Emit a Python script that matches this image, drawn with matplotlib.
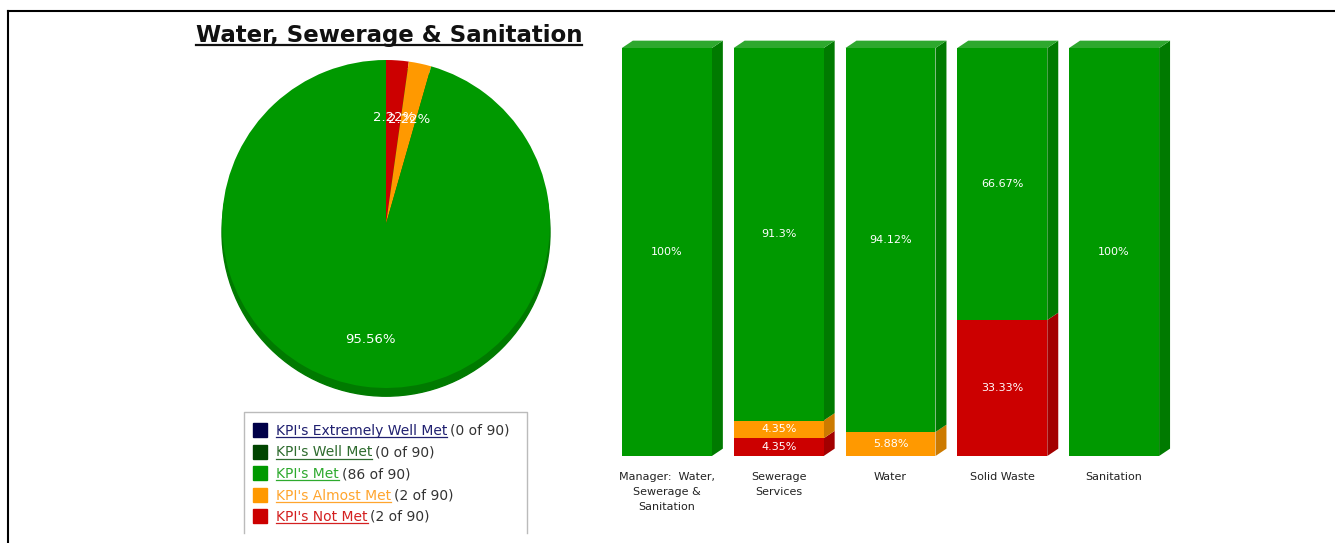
import numpy as np
import matplotlib
matplotlib.use('Agg')
from matplotlib import pyplot as plt
from matplotlib.patches import Polygon, Circle, Rectangle

# overall KPI status for the directorate
kpi_labels = ["KPI's Extremely Well Met", "KPI's Well Met", "KPI's Met",
              "KPI's Almost Met", "KPI's Not Met"]
kpi_counts = [0, 0, 86, 2, 2]
kpi_total = 90
kpi_colors = ['#000048', '#004400', '#009900', '#FF9900', '#CC0000']
kpi_text_colors = ['#202070', '#2E6B2E', '#2EAA2E', '#FFA52E', '#D42020']

# per section breakdown (% of KPIs)
sections = ['Manager:  Water,\nSewerage &\nSanitation', 'Sewerage\nServices',
            'Water', 'Solid Waste', 'Sanitation']
not_met = [0, 4.35, 0, 33.33, 0]
almost_met = [0, 4.35, 5.88, 0, 0]
met = [100, 91.3, 94.12, 66.67, 100]

W, H = 1335, 543
fig = plt.figure(figsize=(W / 100, H / 100), dpi=100)
fig.patch.set_facecolor('white')

def px_axes(x0, y0, w, h):
    # axes placed by pixel box (top-left origin)
    return fig.add_axes([x0 / W, 1 - (y0 + h) / H, w / W, h / H])

# ---- pie ----
ax_pie = px_axes(386 - 164, 224 - 164, 328, 328)
pie_vals = [c for c in kpi_counts[::-1] if c > 0]
pie_cols = [col for c, col in zip(kpi_counts[::-1], kpi_colors[::-1]) if c > 0]
ax_pie.add_patch(Circle((0, -0.05), 1, color='#007A00', zorder=0, clip_on=False))
wedges, texts, autotexts = ax_pie.pie(pie_vals, colors=pie_cols, startangle=90,
                                      counterclock=False, autopct='%.2f%%',
                                      pctdistance=0.68,
                                      textprops=dict(color='white', fontsize=9.5))
for t in autotexts:
    px, py = t.get_position()
    t.set_position((px, py - 0.03))
ax_pie.set_xlim(-1, 1)
ax_pie.set_ylim(-1, 1)
ax_pie.set_aspect('equal')
ax_pie.axis('off')

# ---- 3d-looking stacked bars ----
ax_bar = px_axes(611, 48, 559, 408)
x = np.arange(len(sections))
bw = 0.805
dx, dy = 0.098, 1.8

def darker(c, f):
    rgb = np.array(matplotlib.colors.to_rgb(c))
    return tuple(np.clip(rgb * f, 0, 1))

layers = [(not_met, '#CC0000'), (almost_met, '#FF9900'), (met, '#009900')]
bottom = np.zeros(len(sections))
for vals, col in layers:
    vals = np.array(vals, dtype=float)
    ax_bar.bar(x, vals, bw, bottom=bottom, color=col, linewidth=0, zorder=2)
    for i, v in enumerate(vals):
        if v <= 0:
            continue
        x1 = x[i] + bw / 2
        y0, y1 = bottom[i], bottom[i] + v
        side = Polygon([(x1, y0), (x1 + dx, y0 + dy), (x1 + dx, y1 + dy), (x1, y1)],
                       closed=True, color=darker(col, 0.8), lw=0, clip_on=False, zorder=1)
        ax_bar.add_patch(side)
        ax_bar.text(x[i], y0 + v / 2, '%g%%' % v, ha='center', va='center',
                    color='white', fontsize=8, zorder=3)
    bottom += vals

for i in range(len(sections)):
    x0, x1 = x[i] - bw / 2, x[i] + bw / 2
    top = bottom[i]
    ax_bar.add_patch(Polygon([(x0, top), (x0 + dx, top + dy), (x1 + dx, top + dy), (x1, top)],
                             closed=True, color='#2EA82E', lw=0, clip_on=False, zorder=1))
    ax_bar.text(x[i], -3.9, sections[i], ha='center', va='top', fontsize=8,
                color='#222222', linespacing=1.6)

ax_bar.set_xlim(-0.5, len(sections) - 0.5)
ax_bar.set_ylim(0, 100)
ax_bar.axis('off')

# ---- overlay: frame, title, legend ----
ax = fig.add_axes([0, 0, 1, 1], zorder=-1)
ax.set_xlim(0, W)
ax.set_ylim(H, 0)
ax.axis('off')
ax.plot([8, W], [11, 11], color='black', lw=1.5)
ax.plot([8, 8], [11, H], color='black', lw=1.5)

title = ax.text(389, 42, 'Water, Sewerage & Sanitation', ha='center', va='baseline',
                fontsize=16.5, fontweight='bold', color='#111111')

# legend box (open at the bottom)
ax.plot([244, 244, 527, 527], [533, 412, 412, 533], color='#BBBBBB', lw=1)
row_y = 430
label_texts = []
for lab, cnt, col, tcol in zip(kpi_labels, kpi_counts, kpi_colors, kpi_text_colors):
    ax.add_patch(Rectangle((253, row_y - 7), 14, 14, color=col))
    t = ax.text(276, row_y + 5, lab, ha='left', va='baseline', fontsize=10, color=tcol)
    label_texts.append((t, cnt, tcol, row_y))
    row_y += 21.5

fig.canvas.draw()
inv = ax.transData.inverted()

def extent_px(t):
    bb = t.get_window_extent()
    (xa, ya), (xb, yb) = inv.transform([(bb.x0, bb.y0), (bb.x1, bb.y1)])
    return xa, xb

tx0, tx1 = extent_px(title)
ax.plot([tx0, tx1], [45, 45], color='#111111', lw=1.6)

for t, cnt, tcol, ry in label_texts:
    xa, xb = extent_px(t)
    ax.plot([xa, xb], [ry + 7, ry + 7], color=tcol, lw=0.9)
    ax.text(xb + 3, ry + 5, '(%d of %d)' % (cnt, kpi_total), ha='left', va='baseline',
            fontsize=10, color='#333333')

fig.savefig('out.png', dpi=100, facecolor='white')
